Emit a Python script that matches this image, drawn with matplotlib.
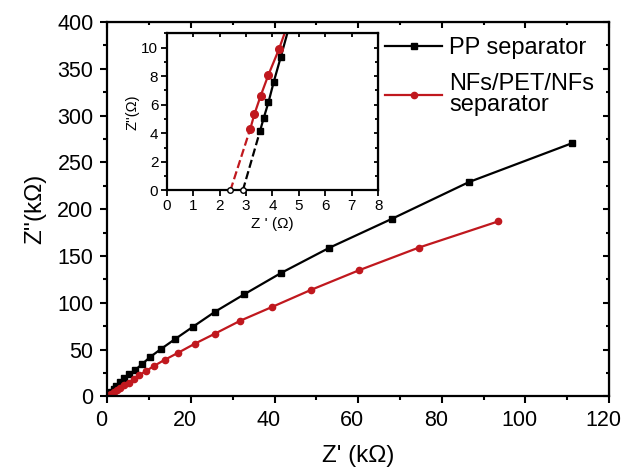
import matplotlib.pyplot as plt
import matplotlib.transforms as mtransforms
from matplotlib.ticker import MultipleLocator

plt.rcParams['font.family'] = ['Liberation Sans', 'DejaVu Sans']

# main plot data (kOhm)
pp_x = [0.1, 0.4, 0.9, 1.5, 2.1, 3.1, 4.0, 5.3, 6.7, 8.3, 10.2, 12.9, 16.3, 20.5, 25.8,
        32.7, 41.6, 53.1, 68.2, 86.5, 111.2]
pp_y = [0.5, 2.0, 5.0, 8.4, 11.6, 15.2, 19.5, 23.8, 28.4, 34.5, 42.0, 50.9, 61.6, 74.5, 90.6,
        109.0, 132.0, 158.8, 190.0, 229.0, 270.6]
nf_x = [0.2, 0.5, 1.0, 1.6, 2.3, 3.1, 4.1, 5.1, 6.3, 7.6, 9.3, 11.2, 13.7, 16.9, 20.9,
        25.7, 31.8, 39.4, 48.7, 60.2, 74.5, 93.5]
nf_y = [0.5, 1.5, 3.0, 5.0, 7.0, 9.4, 12.0, 14.8, 18.4, 22.7, 27.3, 32.7, 39.1, 46.6, 56.3,
        67.0, 80.9, 95.6, 113.8, 134.8, 159.0, 187.0]

# inset data (Ohm)
pp_in_x = [3.53, 3.67, 3.85, 4.05, 4.32, 4.80]
pp_in_y = [4.15, 5.07, 6.17, 7.60, 9.37, 12.6]
nf_in_x = [3.16, 3.32, 3.55, 3.85, 4.25, 4.65]
nf_in_y = [4.30, 5.35, 6.60, 8.10, 9.90, 12.0]
pp_r0 = 2.88
nf_r0 = 2.41

black = 'black'
red = '#c0181e'

fig = plt.figure(figsize=(6.22, 4.69), dpi=100)
ax = fig.add_axes([0.1725, 0.1546, 0.8066, 0.7986])

ax.plot(pp_x, pp_y, color=black, marker='s', ms=4.5, lw=1.6, label='PP separator')
ax.plot(nf_x, nf_y, color=red, marker='o', ms=4.5, lw=1.6, label='NFs/PET/NFs\nseparator')

ax.set_xlim(0, 120)
ax.set_ylim(0, 400)
ax.xaxis.set_major_locator(MultipleLocator(20))
ax.xaxis.set_minor_locator(MultipleLocator(10))
ax.yaxis.set_major_locator(MultipleLocator(50))
ax.yaxis.set_minor_locator(MultipleLocator(25))
ax.tick_params(which='both', direction='out', labelsize=15.5, width=1.5)
ax.tick_params(which='major', length=5, pad=5)
ax.tick_params(which='minor', length=3)
for s in ax.spines.values():
    s.set_linewidth(1.6)
ax.set_xlabel("Z' (k\u03a9)", fontsize=17.5, labelpad=10)
ax.set_ylabel("Z''(k\u03a9)", fontsize=17.5, labelpad=8)

# x tick labels sit a little left of their ticks in the original
shift = mtransforms.ScaledTranslation(-6 / 100, 0, fig.dpi_scale_trans)
for lab in ax.get_xticklabels():
    lab.set_transform(lab.get_transform() + shift)

# inward ticks on top and right
ax2 = ax.secondary_xaxis('top')
ax2.xaxis.set_major_locator(MultipleLocator(20))
ax2.xaxis.set_minor_locator(MultipleLocator(10))
ax2.tick_params(which='both', direction='in', labeltop=False, width=1.5)
ax2.tick_params(which='major', length=4)
ax2.tick_params(which='minor', length=2.5)
ay2 = ax.secondary_yaxis('right')
ay2.yaxis.set_major_locator(MultipleLocator(50))
ay2.yaxis.set_minor_locator(MultipleLocator(25))
ay2.tick_params(which='both', direction='in', labelright=False, width=1.5)
ay2.tick_params(which='major', length=4)
ay2.tick_params(which='minor', length=2.5)

leg = ax.legend(loc='upper left', bbox_to_anchor=(0.554, 0.96), frameon=False, fontsize=17,
                handlelength=2.4, handletextpad=0.3, labelspacing=0.6, borderaxespad=0,
                borderpad=0)
for t in leg.get_texts():
    t.set_linespacing(0.95)

# inset
ins = fig.add_axes([0.268, 0.594, 0.340, 0.335])
ins.plot([pp_r0, pp_in_x[0]], [0, pp_in_y[0]], color=black, ls='--', lw=1.6)
ins.plot([nf_r0, nf_in_x[0]], [0, nf_in_y[0]], color=red, ls='--', lw=1.6)
ins.plot(pp_in_x, pp_in_y, color=black, marker='s', ms=5, lw=1.6)
ins.plot(nf_in_x, nf_in_y, color=red, marker='o', ms=5.5, lw=1.6)
ins.plot([pp_r0, nf_r0], [0, 0], ls='none', marker='o', ms=4, mfc='white', mec=black,
         mew=1, clip_on=False, zorder=5)
ins.set_xlim(0, 8)
ins.set_ylim(0, 11)
ins.xaxis.set_major_locator(MultipleLocator(1))
ins.yaxis.set_major_locator(MultipleLocator(2))
ins.yaxis.set_minor_locator(MultipleLocator(1))
ins.tick_params(which='both', direction='out', labelsize=11, width=1.3, pad=2)
ins.tick_params(which='major', length=4)
ins.tick_params(which='minor', length=2.5)
for s in ins.spines.values():
    s.set_linewidth(1.6)
ins.set_xlabel("Z ' (\u03a9)", fontsize=11, labelpad=3)
ins.set_ylabel("Z''(\u03a9)", fontsize=10.5, labelpad=1)
ix2 = ins.secondary_xaxis('top')
ix2.xaxis.set_major_locator(MultipleLocator(1))
ix2.tick_params(direction='in', labeltop=False, length=3, width=1.3)
iy2 = ins.secondary_yaxis('right')
iy2.yaxis.set_major_locator(MultipleLocator(2))
iy2.yaxis.set_minor_locator(MultipleLocator(1))
iy2.tick_params(which='both', direction='in', labelright=False, width=1.3)
iy2.tick_params(which='major', length=3)
iy2.tick_params(which='minor', length=2)

fig.savefig('out.png', dpi=100)
